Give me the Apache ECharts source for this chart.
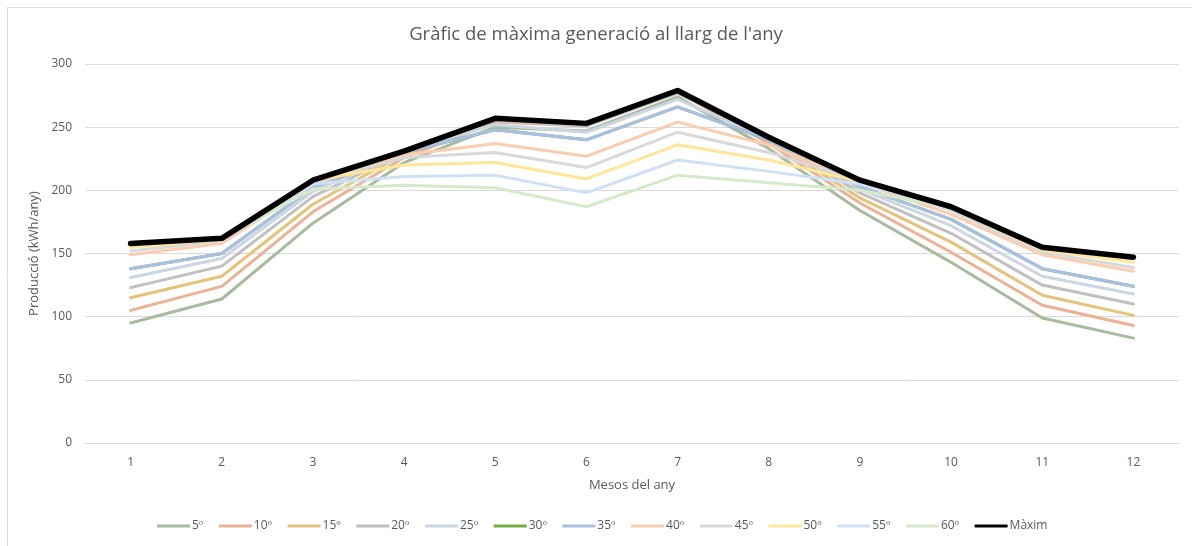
<!DOCTYPE html>
<html>
<head>
<meta charset="utf-8">
<script src="https://cdn.jsdelivr.net/npm/echarts@6/dist/echarts.min.js"></script>
<style>
html,body{margin:0;padding:0;background:#fff;}
#c{width:1192px;height:546px;}
</style>
</head>
<body>
<div id="c"></div>
<script>
var months = ['1','2','3','4','5','6','7','8','9','10','11','12'];
var seriesNames = ['5º','10º','15º','20º','25º','30º','35º','40º','45º','50º','55º','60º','Màxim'];
var s5   = [95, 114, 174, 222, 250, 247, 274, 233, 184, 143, 99, 83];
var s10  = [105, 124, 183, 226, 254, 251, 278, 237, 190, 151, 109, 93];
var s15  = [115, 132, 189, 229, 257, 253, 279, 240, 194, 159, 117, 101];
var s20  = [123, 140, 195, 230, 255, 251, 277, 242, 198, 166, 125, 110];
var s25  = [131, 146, 199, 231, 252, 246, 272, 241, 201, 172, 132, 118];
var s30  = [138, 150, 202, 230, 248, 240, 266, 240, 203, 177, 138, 124];
var s35  = [138, 150, 202, 230, 248, 240, 266, 240, 203, 177, 138, 124];
var s40  = [149, 158, 205, 228, 237, 227, 254, 236, 206, 181, 149, 136];
var s45  = [152, 160, 206, 226, 230, 218, 246, 230, 208, 184, 151, 139];
var s50  = [155, 161, 208, 220, 222, 209, 236, 224, 207, 186, 153, 143];
var s55  = [157, 162, 205, 211, 212, 198, 224, 215, 205, 187, 155, 146];
var s60  = [158, 162, 201, 204, 202, 187, 212, 206, 200, 186, 155, 147];
var sMax = [158, 162, 208, 231, 257, 253, 279, 242, 208, 187, 155, 147];
var yTicks = [0, 50, 100, 150, 200, 250, 300];

var allData = [s5, s10, s15, s20, s25, s30, s35, s40, s45, s50, s55, s60, sMax];
var colors = ['#a8bb9f','#ebb295','#e3c47a','#c0c0c0','#ccd6e2','#70ad47','#a9bfe3','#f9cdb0','#d9d9d9','#ffe699','#cfe1f4','#d6e9cb','#000000'];

var series = seriesNames.map(function(n, i){
  var isMax = (i === seriesNames.length - 1);
  return {
    name: n,
    type: 'line',
    data: allData[i],
    symbol: 'none',
    smooth: false,
    lineStyle: { width: isMax ? 5.5 : 3, color: colors[i], cap: 'round', join: 'round' },
    itemStyle: { color: colors[i] },
    emphasis: { disabled: true }
  };
});

var chart = echarts.init(document.getElementById('c'), null, {renderer: 'canvas'});
chart.setOption({
  animation: false,
  backgroundColor: '#ffffff',
  color: colors,
  title: {
    text: "Gràfic de màxima generació al llarg de l'any",
    left: 'center',
    top: 20,
    textStyle: { fontFamily: 'Open Sans', fontSize: 18.5, fontWeight: 'normal', color: '#595959' }
  },
  graphic: [{
    type: 'rect',
    shape: { x: 7.5, y: 7.5, width: 1300, height: 700 },
    style: { fill: 'none', stroke: '#d9d9d9', lineWidth: 1 },
    silent: true
  }],
  grid: { left: 85, right: 13, top: 64, bottom: 103, containLabel: false },
  legend: {
    bottom: 9,
    left: 152,
    itemWidth: 33,
    itemHeight: 3,
    itemGap: 15.5,
    icon: 'rect',
    textStyle: { fontFamily: 'Open Sans', fontSize: 12, color: '#595959', padding: [0,0,0,-3] },
    data: seriesNames.map(function(n, i){
      return { name: n, icon: i === seriesNames.length - 1 ? 'roundRect' : 'rect' };
    })
  },
  xAxis: {
    type: 'category',
    data: months,
    boundaryGap: true,
    name: 'Mesos del any',
    nameLocation: 'middle',
    nameGap: 36,
    nameTextStyle: { fontFamily: 'Open Sans', fontSize: 13, color: '#595959' },
    axisLine: { lineStyle: { color: '#d9d9d9', width: 1 } },
    axisTick: { show: false },
    axisLabel: { fontFamily: 'Open Sans', fontSize: 12, color: '#595959', margin: 14 }
  },
  yAxis: {
    type: 'value',
    min: yTicks[0],
    max: yTicks[yTicks.length - 1],
    interval: 50,
    name: 'Producció (kWh/any)',
    nameLocation: 'middle',
    nameGap: 43,
    nameRotate: 90,
    nameTextStyle: { fontFamily: 'Open Sans', fontSize: 13, color: '#595959' },
    axisLine: { show: false },
    axisTick: { show: false },
    splitLine: { lineStyle: { color: '#d9d9d9', width: 1 } },
    axisLabel: { fontFamily: 'Open Sans', fontSize: 12, color: '#595959', margin: 13 }
  },
  series: series
});
</script>
</body>
</html>
